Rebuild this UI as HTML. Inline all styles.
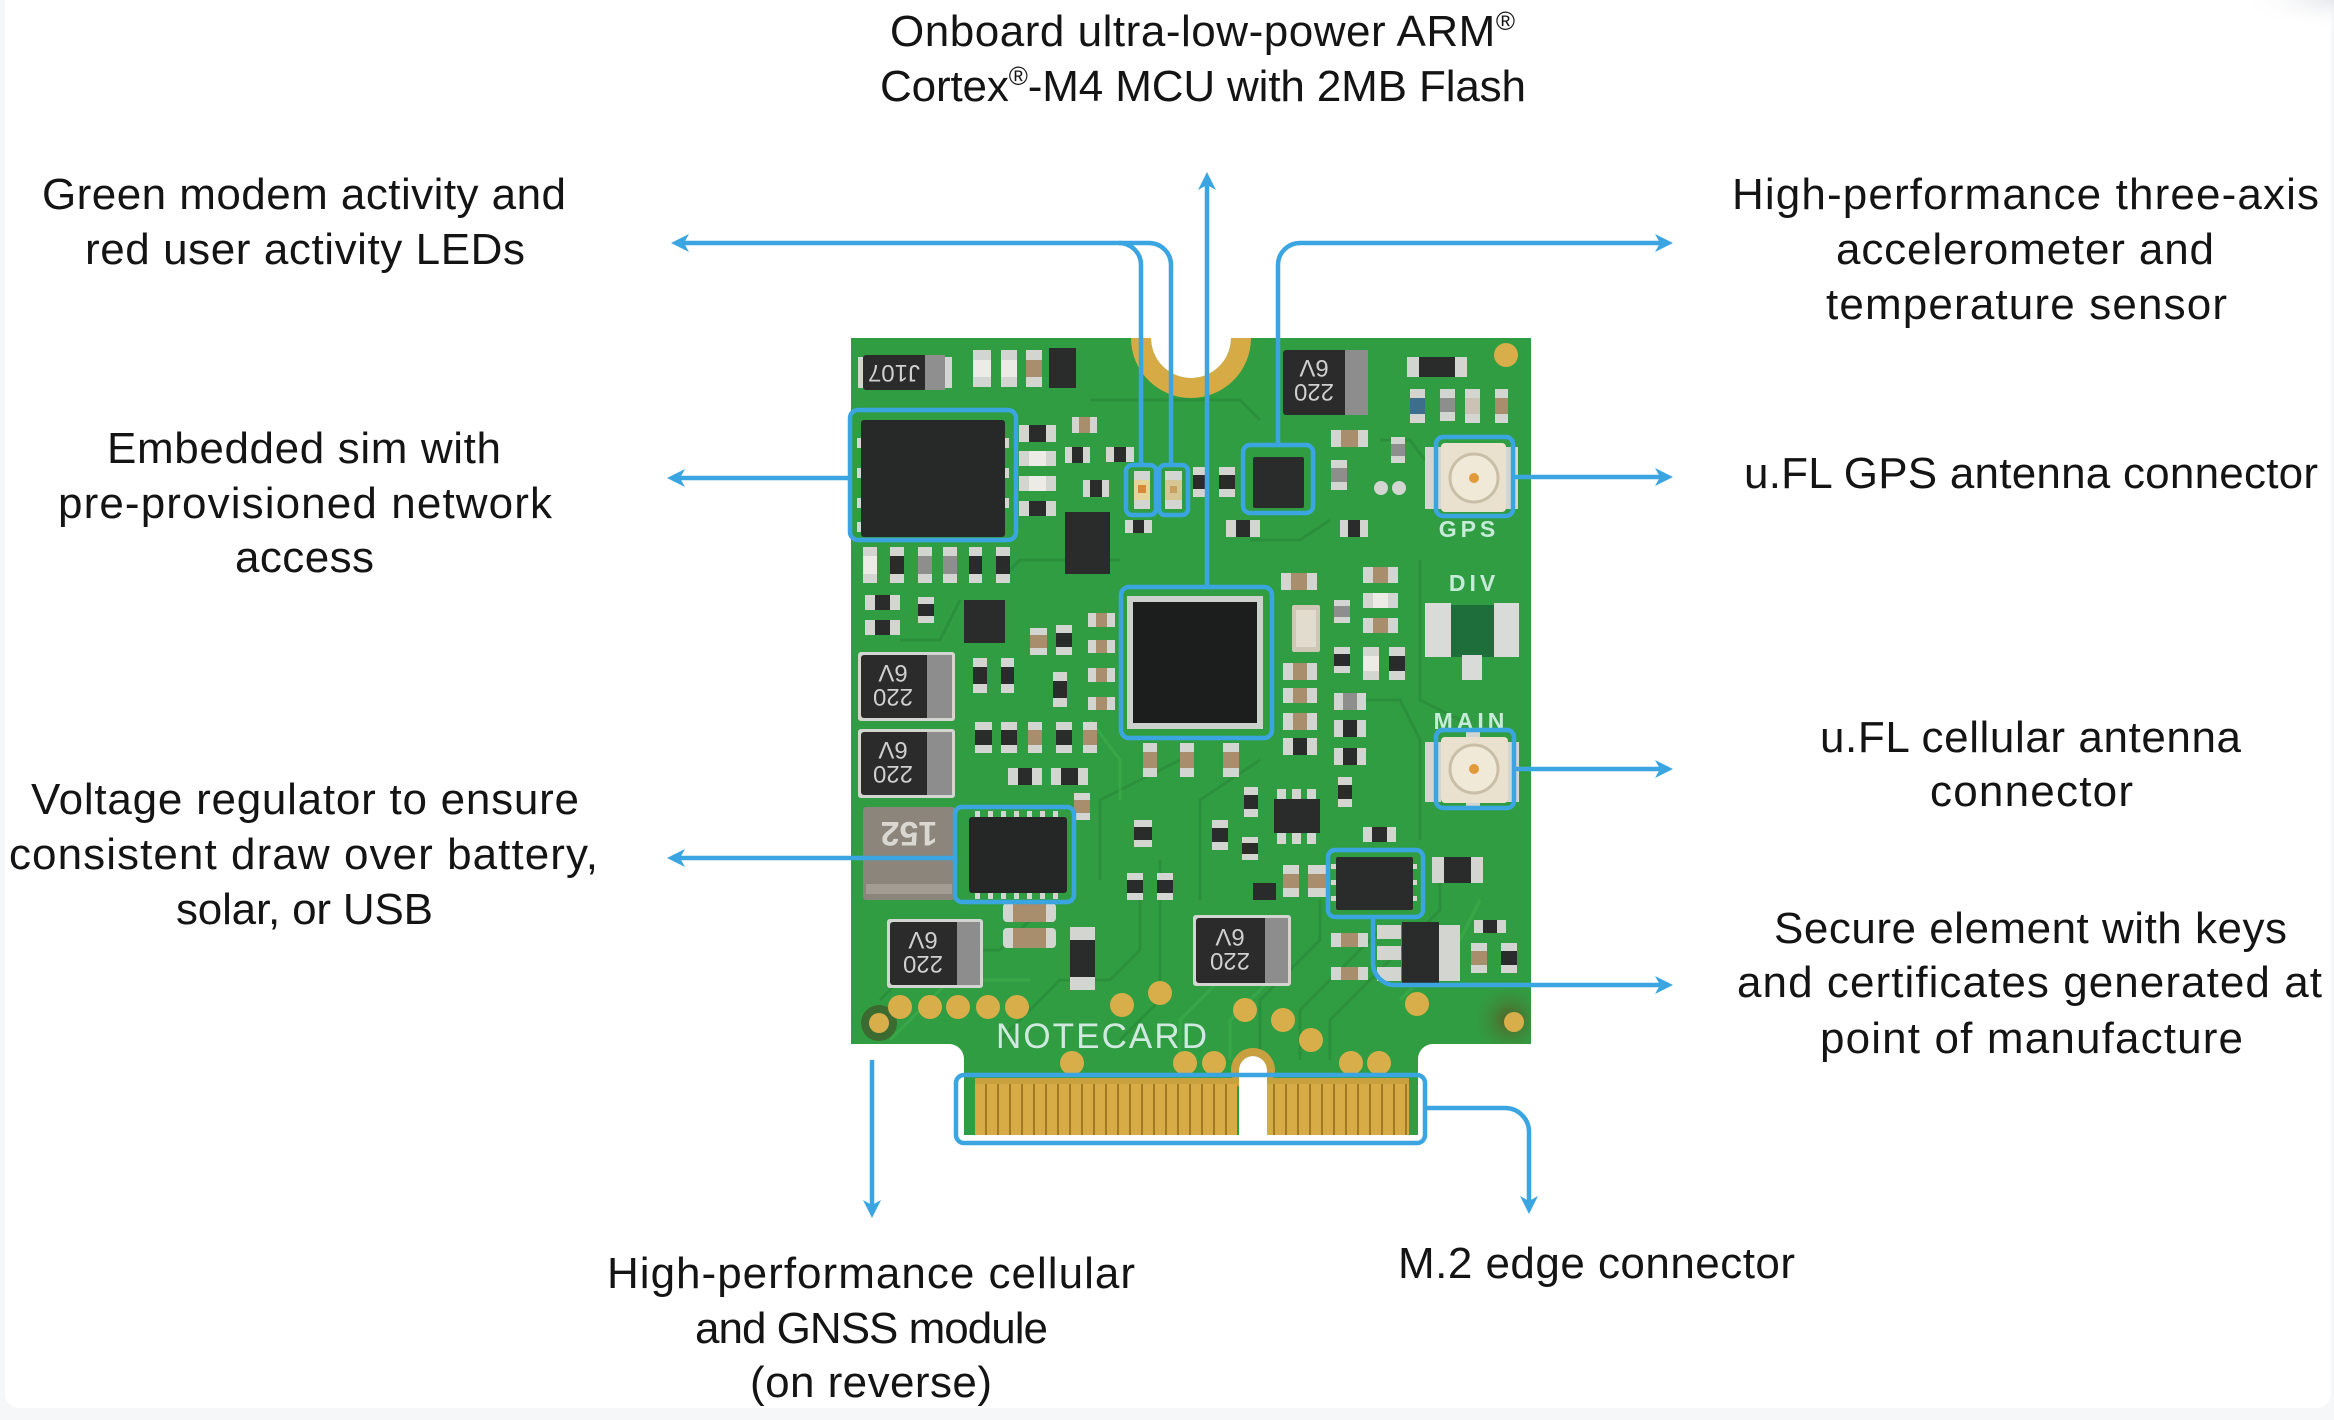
<!DOCTYPE html>
<html><head><meta charset="utf-8">
<style>
html,body{margin:0;padding:0;background:#f6f7f9;}
body{width:2334px;height:1420px;overflow:hidden;position:relative;}
svg{position:absolute;left:0;top:0;}
.t{font-family:"Liberation Sans",sans-serif;font-size:44px;fill:#141414;}
.s{fill:#d3d5d1}.k{fill:#2a2c2b}.w{fill:#ecebe6}.b{fill:#a88e6c}.g{fill:#8e8f8c}
.pl{font-family:"Liberation Sans",sans-serif;font-weight:bold;fill:#c6ebd9;}
.cl{font-family:"Liberation Sans",sans-serif;fill:#cfcfcf;font-size:24px;}
</style></head><body>
<svg width="2334" height="1420" viewBox="0 0 2334 1420">
<defs>
 <clipPath id="bc"><path d="M851,338 H1151 A40,40 0 0 0 1231,338 H1531 V1044 H1433 A15,15 0 0 0 1418,1059 V1135 H1267 V1070 A14,14 0 0 0 1239,1070 V1135 H964 V1059 A15,15 0 0 0 949,1044 H851 Z"/></clipPath>
 <pattern id="fing" x="975" y="0" width="12" height="60" patternUnits="userSpaceOnUse">
   <rect width="12" height="60" fill="#d7ac47"/>
   <rect x="10" width="2" height="60" fill="#a37a24"/>
 </pattern>
 <radialGradient id="sh" cx="1" cy="0" r="1">
   <stop offset="0" stop-color="#e6e8eb"/>
   <stop offset="1" stop-color="#ffffff" stop-opacity="0"/>
 </radialGradient>
 <radialGradient id="cornr" cx="0.5" cy="0.5" r="0.5">
   <stop offset="0" stop-color="#5a5a26"/>
   <stop offset="1" stop-color="#319d42" stop-opacity="0"/>
 </radialGradient>
</defs>

<!-- card -->
<rect x="5" y="-20" width="2326" height="1428" rx="14" fill="#ffffff"/>
<rect x="2240" y="0" width="94" height="30" fill="url(#sh)"/>

<!-- BOARD -->
<g clip-path="url(#bc)">
 <rect x="840" y="330" width="700" height="820" fill="#319d42"/>
 <!-- traces -->
 <g fill="none" stroke="#2a8d3a" stroke-width="3" opacity="0.8">
  <path d="M880,1000 L930,950 L1000,950 L1040,910"/>
  <path d="M1000,1040 L1060,980 L1110,980 L1140,950 L1140,900"/>
  <path d="M1120,1040 L1160,1000 L1160,860"/>
  <path d="M1260,1060 L1260,1000 L1320,940 L1320,900"/>
  <path d="M1300,1060 L1300,1010 L1380,930"/>
  <path d="M1330,1060 L1330,1020 L1440,910 L1440,880"/>
  <path d="M1100,880 L1100,800 L1180,760"/>
  <path d="M1200,900 L1200,800 L1260,760"/>
  <path d="M1420,560 L1420,700 L1460,720"/>
  <path d="M1250,540 L1300,540 L1330,520"/>
  <path d="M1000,580 L1020,560 L1120,560"/>
  <path d="M900,640 L940,640 L960,600"/>
  <path d="M1360,700 L1400,700 L1420,740 L1420,840"/>
  <path d="M1090,400 L1240,400 L1260,420"/>
  <path d="M1380,440 L1410,440 L1425,460"/>
 </g>
 <g fill="none" stroke="#3aab4c" stroke-width="3" opacity="0.7">
  <path d="M890,1040 L950,980 L1030,980"/>
  <path d="M1180,1060 L1180,1020 L1230,970"/>
  <path d="M1230,1060 L1230,1020 L1280,970 L1280,930"/>
  <path d="M1400,1000 L1460,940 L1480,900"/>
  <path d="M1090,720 L1120,760 L1120,800"/>
 </g>
 <!-- gold notch -->
 <circle cx="1191" cy="338" r="60" fill="#d6ab46"/>
 <!-- slot ring -->
 <circle cx="1253" cy="1070" r="22" fill="#c9a040"/>
 <!-- corner shade -->
 <rect x="1470" y="980" width="80" height="80" fill="url(#cornr)"/>
 <circle cx="879" cy="1023" r="18" fill="#3f5f2c" opacity="0.8"/>
 <!-- gold fingers -->
 <rect x="975" y="1080" width="262" height="60" fill="url(#fing)"/>
 <rect x="1267" y="1080" width="142" height="60" fill="url(#fing)"/>
 <rect x="975" y="1078" width="262" height="6" fill="#c9a03e"/>
 <rect x="1267" y="1078" width="142" height="6" fill="#c9a03e"/>
</g>

<!-- gold vias -->
<g fill="#d8ae4a">
 <circle cx="900" cy="1007" r="12"/><circle cx="930" cy="1007" r="12"/><circle cx="958" cy="1007" r="12"/>
 <circle cx="988" cy="1007" r="12"/><circle cx="1017" cy="1007" r="12"/><circle cx="1122" cy="1005" r="12"/>
 <circle cx="1160" cy="993" r="12"/><circle cx="1245" cy="1010" r="12"/><circle cx="1283" cy="1020" r="12"/>
 <circle cx="1311" cy="1040" r="12"/><circle cx="1072" cy="1063" r="12"/><circle cx="1185" cy="1063" r="12"/>
 <circle cx="1214" cy="1063" r="12"/><circle cx="1351" cy="1063" r="12"/><circle cx="1379" cy="1063" r="12"/>
 <circle cx="1417" cy="1004" r="12"/><circle cx="879" cy="1023" r="10"/><circle cx="1514" cy="1022" r="10"/>
 <circle cx="1506" cy="355" r="12"/>
</g>

<!-- NOTECARD -->
<text class="pl" x="996" y="1048" font-size="35" font-weight="normal" textLength="211" lengthAdjust="spacing" style="font-weight:normal;fill:#cfe9df">NOTECARD</text>

<!-- J107 -->
<rect x="858" y="357" width="94" height="31" class="s"/>
<rect x="863" y="355" width="64" height="35" rx="3" fill="#2b2b2b"/>
<rect x="925" y="355" width="20" height="35" fill="#8f8f8f"/>
<text class="cl" x="894" y="381" font-size="22" text-anchor="middle" transform="rotate(180 894 373)">J107</text>

<!-- top small parts -->
<rect class="s" x="973" y="350" width="18" height="37"/><rect class="w" x="973" y="360" width="18" height="17"/>
<rect class="s" x="1001" y="350" width="16" height="37"/><rect class="w" x="1001" y="360" width="16" height="17"/>
<rect class="s" x="1026" y="350" width="16" height="37"/><rect class="b" x="1026" y="360" width="16" height="17"/>
<rect class="k" x="1049" y="348" width="27" height="40"/>

<!-- 220 cap top right -->
<rect x="1283" y="350" width="85" height="65" rx="3" fill="#2b2b2b"/>
<rect x="1345" y="350" width="23" height="65" fill="#8d8d8d"/>
<text class="cl" x="1314" y="380" text-anchor="middle" transform="rotate(180 1314 382)">220</text>
<text class="cl" x="1314" y="404" text-anchor="middle" transform="rotate(180 1314 382)">6V</text>

<!-- X10 -->
<rect class="s" x="1407" y="357" width="60" height="20"/>
<rect class="k" x="1419" y="357" width="36" height="20"/>

<!-- small parts right top -->
<rect class="s" x="1410" y="389" width="15" height="34"/><rect x="1410" y="398" width="15" height="16" fill="#3d6f8c"/>
<rect class="s" x="1440" y="389" width="15" height="32"/><rect class="g" x="1440" y="398" width="15" height="14"/>
<rect class="s" x="1465" y="389" width="15" height="34"/><rect x="1465" y="398" width="15" height="16" fill="#c9c2b5"/>
<rect class="s" x="1495" y="389" width="13" height="34"/><rect class="b" x="1495" y="398" width="13" height="16"/>

<!-- SIM -->
<rect class="s" x="857" y="438" width="5" height="10"/><rect class="s" x="857" y="468" width="5" height="10"/>
<rect class="s" x="857" y="498" width="5" height="10"/><rect class="s" x="857" y="522" width="5" height="10"/>
<rect class="s" x="1004" y="438" width="5" height="10"/><rect class="s" x="1004" y="468" width="5" height="10"/>
<rect class="s" x="1004" y="498" width="5" height="10"/>
<rect x="861" y="420" width="144" height="117" rx="3" fill="#262927"/>

<!-- parts near SIM -->
<rect class="s" x="1019" y="425" width="37" height="17"/><rect class="k" x="1029" y="425" width="17" height="17"/>
<rect class="s" x="1019" y="451" width="37" height="15"/><rect class="w" x="1029" y="451" width="17" height="15"/>
<rect class="s" x="1019" y="476" width="37" height="15"/><rect class="w" x="1029" y="476" width="17" height="15"/>
<rect class="s" x="1019" y="501" width="37" height="15"/><rect class="k" x="1029" y="501" width="17" height="15"/>
<rect class="s" x="1072" y="417" width="25" height="16"/><rect class="b" x="1079" y="417" width="11" height="16"/>
<rect class="s" x="1065" y="447" width="25" height="16"/><rect class="k" x="1072" y="447" width="11" height="16"/>
<rect class="s" x="1106" y="447" width="28" height="15"/><rect class="k" x="1114" y="447" width="12" height="15"/>
<rect class="s" x="1083" y="480" width="26" height="17"/><rect class="k" x="1090" y="480" width="12" height="17"/>
<rect class="k" x="1065" y="512" width="45" height="62"/>
<rect class="s" x="1125" y="520" width="27" height="13"/><rect class="k" x="1133" y="520" width="11" height="13"/>
<rect class="s" x="1193" y="467" width="14" height="30"/><rect class="k" x="1193" y="475" width="14" height="14"/>
<rect class="s" x="1219" y="467" width="16" height="30"/><rect class="k" x="1219" y="475" width="16" height="14"/>
<rect class="s" x="1331" y="430" width="37" height="17"/><rect class="b" x="1341" y="430" width="17" height="17"/>
<rect class="s" x="1331" y="460" width="16" height="30"/><rect class="g" x="1331" y="468" width="16" height="14"/>
<rect class="s" x="1391" y="437" width="14" height="26"/><rect class="g" x="1391" y="444" width="14" height="12"/>
<circle cx="1381" cy="488" r="7" class="s"/><circle cx="1399" cy="488" r="7" class="s"/>
<rect class="s" x="1226" y="520" width="34" height="17"/><rect class="k" x="1236" y="520" width="14" height="17"/>
<rect class="s" x="1340" y="520" width="28" height="17"/><rect class="k" x="1348" y="520" width="12" height="17"/>

<!-- LEDs -->
<rect class="s" x="1134" y="471" width="16" height="38"/><rect x="1134" y="480" width="16" height="20" fill="#e6d49a"/><rect x="1138" y="485" width="8" height="8" fill="#d88a38"/>
<rect class="s" x="1165" y="471" width="17" height="38"/><rect x="1165" y="480" width="17" height="20" fill="#d7c594"/><rect x="1170" y="486" width="7" height="7" fill="#c8a060"/>

<!-- accel -->
<rect class="k" x="1253" y="457" width="51" height="51" rx="2"/>

<!-- GPS uFL -->
<rect class="s" x="1425" y="447" width="16" height="62"/><rect class="s" x="1506" y="447" width="12" height="62"/>
<rect x="1441" y="443" width="65" height="69" rx="4" fill="#e9e1cd"/>
<circle cx="1474" cy="478" r="24" fill="#f0e9d8" stroke="#c9bea8" stroke-width="3"/>
<circle cx="1474" cy="478" r="5" fill="#e09a3a"/>
<text class="pl" x="1469" y="537" font-size="23" text-anchor="middle" letter-spacing="4">GPS</text>

<!-- middle row -->
<rect class="s" x="863" y="547" width="14" height="36"/><rect class="w" x="863" y="556" width="14" height="18"/>
<rect class="s" x="890" y="547" width="14" height="36"/><rect class="k" x="890" y="556" width="14" height="18"/>
<rect class="s" x="918" y="547" width="14" height="36"/><rect class="g" x="918" y="556" width="14" height="18"/>
<rect class="s" x="943" y="547" width="14" height="36"/><rect class="g" x="943" y="556" width="14" height="18"/>
<rect class="s" x="969" y="547" width="13" height="36"/><rect class="k" x="969" y="556" width="13" height="18"/>
<rect class="s" x="996" y="547" width="14" height="36"/><rect class="k" x="996" y="556" width="14" height="18"/>
<rect class="s" x="865" y="595" width="35" height="15"/><rect class="k" x="875" y="595" width="15" height="15"/>
<rect class="s" x="865" y="620" width="35" height="15"/><rect class="k" x="875" y="620" width="15" height="15"/>
<rect class="s" x="918" y="597" width="16" height="26"/><rect class="k" x="918" y="604" width="16" height="12"/>
<rect class="k" x="964" y="600" width="41" height="43"/>
<rect class="s" x="973" y="658" width="14" height="35"/><rect class="k" x="973" y="667" width="14" height="17"/>
<rect class="s" x="1001" y="658" width="13" height="35"/><rect class="k" x="1001" y="667" width="13" height="17"/>
<rect class="s" x="1030" y="628" width="17" height="27"/><rect class="b" x="1030" y="635" width="17" height="13"/>
<rect class="s" x="1056" y="625" width="16" height="30"/><rect class="k" x="1056" y="633" width="16" height="14"/>
<rect class="s" x="1053" y="672" width="14" height="35"/><rect class="k" x="1053" y="681" width="14" height="17"/>
<rect class="s" x="1088" y="613" width="27" height="14"/><rect class="b" x="1096" y="613" width="11" height="14"/>
<rect class="s" x="1088" y="640" width="27" height="13"/><rect class="b" x="1096" y="640" width="11" height="13"/>
<rect class="s" x="1088" y="668" width="27" height="14"/><rect class="b" x="1096" y="668" width="11" height="14"/>
<rect class="s" x="1088" y="697" width="27" height="13"/><rect class="b" x="1096" y="697" width="11" height="13"/>
<rect class="s" x="975" y="722" width="17" height="31"/><rect class="k" x="975" y="730" width="17" height="15"/>
<rect class="s" x="1001" y="722" width="16" height="31"/><rect class="k" x="1001" y="730" width="16" height="15"/>
<rect class="s" x="1028" y="722" width="14" height="31"/><rect class="b" x="1028" y="730" width="14" height="15"/>
<rect class="s" x="1056" y="722" width="16" height="31"/><rect class="k" x="1056" y="730" width="16" height="15"/>
<rect class="s" x="1083" y="722" width="14" height="31"/><rect class="b" x="1083" y="730" width="14" height="15"/>

<!-- 220 caps left -->
<rect class="s" x="858" y="652" width="97" height="69" rx="3"/>
<rect x="861" y="655" width="91" height="63" rx="3" fill="#2b2b2b"/><rect x="927" y="655" width="25" height="63" fill="#8d8d8d"/>
<text class="cl" x="893" y="683" text-anchor="middle" transform="rotate(180 893 686)">220</text>
<text class="cl" x="893" y="707" text-anchor="middle" transform="rotate(180 893 686)">6V</text>
<rect class="s" x="858" y="729" width="97" height="69" rx="3"/>
<rect x="861" y="732" width="91" height="63" rx="3" fill="#2b2b2b"/><rect x="927" y="732" width="25" height="63" fill="#8d8d8d"/>
<text class="cl" x="893" y="760" text-anchor="middle" transform="rotate(180 893 763)">220</text>
<text class="cl" x="893" y="784" text-anchor="middle" transform="rotate(180 893 763)">6V</text>

<!-- MCU -->
<rect x="1127" y="596" width="136" height="133" fill="#cdd1cc"/>
<rect x="1133" y="602" width="124" height="121" fill="#1c1e1d"/>

<!-- below / right MCU -->
<rect class="s" x="1143" y="743" width="14" height="34"/><rect class="b" x="1143" y="752" width="14" height="16"/>
<rect class="s" x="1180" y="743" width="14" height="34"/><rect class="b" x="1180" y="752" width="14" height="16"/>
<rect class="s" x="1223" y="743" width="16" height="34"/><rect class="b" x="1223" y="752" width="16" height="16"/>
<rect class="s" x="1008" y="768" width="34" height="17"/><rect class="k" x="1018" y="768" width="14" height="17"/>
<rect class="s" x="1051" y="768" width="37" height="17"/><rect class="k" x="1061" y="768" width="17" height="17"/>
<rect class="s" x="1283" y="663" width="34" height="17"/><rect class="b" x="1293" y="663" width="14" height="17"/>
<rect class="s" x="1283" y="688" width="34" height="15"/><rect class="b" x="1293" y="688" width="14" height="15"/>
<rect class="s" x="1283" y="713" width="34" height="17"/><rect class="b" x="1293" y="713" width="14" height="17"/>
<rect class="s" x="1283" y="738" width="34" height="17"/><rect class="k" x="1293" y="738" width="14" height="17"/>
<rect class="s" x="1281" y="573" width="36" height="17"/><rect class="b" x="1291" y="573" width="16" height="17"/>
<rect x="1292" y="605" width="28" height="47" rx="2" fill="#cfc7b6"/><rect x="1296" y="610" width="20" height="37" fill="#e2dccf"/>
<rect class="s" x="1334" y="600" width="16" height="23"/><rect class="g" x="1334" y="606" width="16" height="11"/>
<rect class="s" x="1334" y="647" width="16" height="26"/><rect class="k" x="1334" y="654" width="16" height="12"/>
<rect class="s" x="1363" y="567" width="35" height="16"/><rect class="b" x="1373" y="567" width="15" height="16"/>
<rect class="s" x="1363" y="593" width="35" height="15"/><rect class="w" x="1373" y="593" width="15" height="15"/>
<rect class="s" x="1363" y="618" width="35" height="15"/><rect class="b" x="1373" y="618" width="15" height="15"/>
<rect class="s" x="1363" y="647" width="16" height="33"/><rect class="w" x="1363" y="656" width="16" height="15"/>
<rect class="s" x="1389" y="647" width="16" height="33"/><rect class="k" x="1389" y="656" width="16" height="15"/>
<rect class="s" x="1334" y="693" width="32" height="17"/><rect class="g" x="1343" y="693" width="14" height="17"/>
<rect class="s" x="1334" y="720" width="32" height="17"/><rect class="k" x="1343" y="720" width="14" height="17"/>
<rect class="s" x="1334" y="748" width="32" height="17"/><rect class="k" x="1343" y="748" width="14" height="17"/>

<!-- DIV -->
<text class="pl" x="1474" y="591" font-size="23" text-anchor="middle" letter-spacing="4">DIV</text>
<rect x="1446" y="605" width="50" height="52" fill="#1e6e3c"/>
<rect x="1425" y="603" width="26" height="54" fill="#d9dbd8"/>
<rect x="1494" y="603" width="25" height="54" fill="#d9dbd8"/>
<rect x="1462" y="655" width="20" height="25" fill="#d9dbd8"/>

<!-- MAIN uFL -->
<text class="pl" x="1471" y="729" font-size="23" text-anchor="middle" letter-spacing="4">MAIN</text>
<rect class="s" x="1425" y="742" width="16" height="60"/><rect class="s" x="1507" y="742" width="12" height="60"/>
<rect class="s" x="1466" y="731" width="14" height="8"/><rect class="s" x="1466" y="801" width="14" height="8"/>
<rect x="1441" y="737" width="67" height="66" rx="4" fill="#e9e1cd"/>
<circle cx="1474" cy="769" r="24" fill="#f0e9d8" stroke="#c9bea8" stroke-width="3"/>
<circle cx="1474" cy="769" r="5" fill="#e09a3a"/>

<!-- SOT and lower middle parts -->
<rect class="s" x="1277" y="789" width="9" height="12"/><rect class="s" x="1292" y="789" width="9" height="12"/><rect class="s" x="1307" y="789" width="9" height="12"/>
<rect class="s" x="1277" y="832" width="9" height="12"/><rect class="s" x="1292" y="832" width="9" height="12"/><rect class="s" x="1307" y="832" width="9" height="12"/>
<rect class="k" x="1274" y="799" width="46" height="34"/>
<rect class="s" x="1244" y="787" width="14" height="30"/><rect class="k" x="1244" y="795" width="14" height="14"/>
<rect class="s" x="1338" y="777" width="14" height="30"/><rect class="k" x="1338" y="785" width="14" height="14"/>
<rect class="s" x="1363" y="827" width="33" height="15"/><rect class="k" x="1372" y="827" width="15" height="15"/>
<rect class="s" x="1134" y="820" width="18" height="27"/><rect class="k" x="1134" y="827" width="18" height="13"/>
<rect class="s" x="1212" y="820" width="16" height="30"/><rect class="k" x="1212" y="828" width="16" height="14"/>
<rect class="s" x="1242" y="837" width="16" height="23"/><rect class="k" x="1242" y="843" width="16" height="11"/>
<rect class="s" x="1127" y="873" width="16" height="27"/><rect class="k" x="1127" y="880" width="16" height="13"/>
<rect class="s" x="1157" y="873" width="16" height="27"/><rect class="k" x="1157" y="880" width="16" height="13"/>
<rect class="s" x="1283" y="865" width="16" height="32"/><rect class="b" x="1283" y="874" width="16" height="14"/>
<rect class="s" x="1308" y="865" width="19" height="32"/><rect class="b" x="1308" y="874" width="19" height="14"/>
<rect class="s" x="1074" y="793" width="16" height="27"/><rect class="b" x="1074" y="800" width="16" height="13"/>
<rect class="k" x="1253" y="883" width="23" height="17"/>
<rect class="s" x="1432" y="857" width="51" height="26"/><rect class="k" x="1444" y="857" width="27" height="26"/>

<!-- Voltage reg + inductor -->
<rect x="863" y="807" width="92" height="93" rx="3" fill="#8b857c"/>
<rect x="866" y="884" width="86" height="10" fill="#a29c93"/>
<text x="909" y="846" font-family="Liberation Sans, sans-serif" font-weight="bold" font-size="34" fill="#dad6d0" text-anchor="middle" transform="rotate(180 909 834)">152</text>
<g class="s">
 <rect x="975" y="811" width="5" height="8"/><rect x="988" y="811" width="5" height="8"/><rect x="1001" y="811" width="5" height="8"/><rect x="1014" y="811" width="5" height="8"/><rect x="1027" y="811" width="5" height="8"/><rect x="1040" y="811" width="5" height="8"/><rect x="1053" y="811" width="5" height="8"/>
 <rect x="975" y="891" width="5" height="8"/><rect x="988" y="891" width="5" height="8"/><rect x="1001" y="891" width="5" height="8"/><rect x="1014" y="891" width="5" height="8"/><rect x="1027" y="891" width="5" height="8"/><rect x="1040" y="891" width="5" height="8"/><rect x="1053" y="891" width="5" height="8"/>
</g>
<rect x="969" y="817" width="98" height="76" rx="3" fill="#242725"/>

<!-- Secure element -->
<rect class="s" x="1331" y="864" width="6" height="5"/><rect class="s" x="1331" y="880" width="6" height="5"/><rect class="s" x="1331" y="896" width="6" height="5"/>
<rect class="s" x="1411" y="864" width="6" height="5"/><rect class="s" x="1411" y="880" width="6" height="5"/><rect class="s" x="1411" y="896" width="6" height="5"/>
<rect class="k" x="1336" y="857" width="77" height="53" rx="2"/>

<!-- bottom parts -->
<rect class="s" x="1003" y="903" width="53" height="19" rx="4"/><rect class="b" x="1013" y="903" width="33" height="19"/>
<rect class="s" x="1003" y="928" width="53" height="20" rx="4"/><rect class="b" x="1013" y="928" width="33" height="20"/>
<rect class="s" x="1070" y="927" width="25" height="63"/><rect class="k" x="1070" y="940" width="25" height="37"/>
<rect class="s" x="887" y="919" width="96" height="69" rx="3"/>
<rect x="890" y="922" width="90" height="63" rx="3" fill="#2b2b2b"/><rect x="957" y="922" width="23" height="63" fill="#8d8d8d"/>
<text class="cl" x="923" y="950" text-anchor="middle" transform="rotate(180 923 953)">220</text>
<text class="cl" x="923" y="974" text-anchor="middle" transform="rotate(180 923 953)">6V</text>
<rect class="s" x="1193" y="915" width="98" height="71" rx="3"/>
<rect x="1196" y="918" width="92" height="65" rx="3" fill="#2b2b2b"/><rect x="1265" y="918" width="23" height="65" fill="#8d8d8d"/>
<text class="cl" x="1230" y="947" text-anchor="middle" transform="rotate(180 1230 950)">220</text>
<text class="cl" x="1230" y="971" text-anchor="middle" transform="rotate(180 1230 950)">6V</text>
<rect class="s" x="1377" y="925" width="24" height="14"/><rect class="s" x="1377" y="946" width="24" height="14"/><rect class="s" x="1377" y="967" width="24" height="14"/>
<rect class="s" x="1438" y="925" width="22" height="56"/>
<rect class="k" x="1402" y="922" width="37" height="61"/>
<rect class="s" x="1331" y="933" width="37" height="14"/><rect class="b" x="1341" y="933" width="17" height="14"/>
<rect class="s" x="1331" y="967" width="37" height="13"/><rect class="b" x="1341" y="967" width="17" height="13"/>
<rect class="s" x="1471" y="943" width="16" height="30"/><rect class="b" x="1471" y="951" width="16" height="14"/>
<rect class="s" x="1501" y="943" width="16" height="30"/><rect class="k" x="1501" y="951" width="16" height="14"/>
<rect class="s" x="1474" y="920" width="32" height="13"/><rect class="k" x="1483" y="920" width="14" height="13"/>

<!-- BLUE ANNOTATIONS -->
<g fill="none" stroke="#3aa5e0" stroke-width="4.5" stroke-linejoin="round">
 <rect x="850" y="410" width="166" height="130" rx="8"/>
 <rect x="1126" y="465" width="30" height="50" rx="6"/>
 <rect x="1159" y="465" width="29" height="50" rx="6"/>
 <rect x="1243" y="445" width="70" height="68" rx="7"/>
 <rect x="1436" y="437" width="77" height="79" rx="7"/>
 <rect x="1121" y="587" width="151" height="151" rx="8"/>
 <rect x="1436" y="730" width="78" height="78" rx="7"/>
 <rect x="955" y="807" width="119" height="95" rx="7"/>
 <rect x="1328" y="850" width="95" height="67" rx="7"/>
 <rect x="956" y="1075" width="469" height="68" rx="8"/>
 <path d="M683,243 H1149 A22,22 0 0 1 1171,265 V465"/>
 <path d="M1119,243 A22,22 0 0 1 1141,265 V465"/>
 <path d="M850,478 H679"/>
 <path d="M955,858 H679"/>
 <path d="M1278,445 V265 A22,22 0 0 1 1300,243 H1661"/>
 <path d="M1513,477 H1661"/>
 <path d="M1514,769 H1661"/>
 <path d="M1373,917 V963 A22,22 0 0 0 1395,985 H1661"/>
 <path d="M1207,587 V184"/>
 <path d="M872,1060 V1206"/>
 <path d="M1425,1108 H1505 A24,24 0 0 1 1529,1132 V1202"/>
</g>
<g fill="#3aa5e0">
 <polygon points="671,243 689,234 684,243 689,252"/>
 <polygon points="667,478 685,469 680,478 685,487"/>
 <polygon points="667,858 685,849 680,858 685,867"/>
 <polygon points="1673,243 1655,234 1660,243 1655,252"/>
 <polygon points="1673,477 1655,468 1660,477 1655,486"/>
 <polygon points="1673,769 1655,760 1660,769 1655,778"/>
 <polygon points="1673,985 1655,976 1660,985 1655,994"/>
 <polygon points="1207,172 1198,190 1207,185 1216,190"/>
 <polygon points="872,1218 863,1200 872,1205 881,1200"/>
 <polygon points="1529,1214 1520,1196 1529,1201 1538,1196"/>
</g>

<!-- LABELS -->
<text class="t" x="890" y="46" textLength="625" lengthAdjust="spacing">Onboard ultra-low-power ARM<tspan font-size="26" dy="-16">®</tspan></text>
<text class="t" x="880" y="101" textLength="646" lengthAdjust="spacing">Cortex<tspan font-size="26" dy="-16">®</tspan><tspan dy="16">-M4 MCU with 2MB Flash</tspan></text>

<text class="t" x="42" y="209" textLength="524" lengthAdjust="spacing">Green modem activity and</text>
<text class="t" x="85" y="264" textLength="440" lengthAdjust="spacing">red user activity LEDs</text>

<text class="t" x="107" y="463" textLength="394" lengthAdjust="spacing">Embedded sim with</text>
<text class="t" x="58" y="518" textLength="494" lengthAdjust="spacing">pre-provisioned network</text>
<text class="t" x="235" y="572" textLength="139" lengthAdjust="spacing">access</text>

<text class="t" x="31" y="814" textLength="548" lengthAdjust="spacing">Voltage regulator to ensure</text>
<text class="t" x="9" y="869" textLength="589" lengthAdjust="spacing">consistent draw over battery,</text>
<text class="t" x="176" y="924" textLength="257" lengthAdjust="spacing">solar, or USB</text>

<text class="t" x="1732" y="209" textLength="587" lengthAdjust="spacing">High-performance three-axis</text>
<text class="t" x="1836" y="264" textLength="378" lengthAdjust="spacing">accelerometer and</text>
<text class="t" x="1826" y="319" textLength="401" lengthAdjust="spacing">temperature sensor</text>

<text class="t" x="1744" y="488" textLength="574" lengthAdjust="spacing">u.FL GPS antenna connector</text>

<text class="t" x="1820" y="752" textLength="421" lengthAdjust="spacing">u.FL cellular antenna</text>
<text class="t" x="1930" y="806" textLength="203" lengthAdjust="spacing">connector</text>

<text class="t" x="1774" y="943" textLength="513" lengthAdjust="spacing">Secure element with keys</text>
<text class="t" x="1737" y="997" textLength="585" lengthAdjust="spacing">and certificates generated at</text>
<text class="t" x="1820" y="1053" textLength="423" lengthAdjust="spacing">point of manufacture</text>

<text class="t" x="607" y="1288" textLength="528" lengthAdjust="spacing">High-performance cellular</text>
<text class="t" x="695" y="1343" textLength="353" lengthAdjust="spacing">and GNSS module</text>
<text class="t" x="750" y="1397" textLength="242" lengthAdjust="spacing">(on reverse)</text>

<text class="t" x="1398" y="1278" textLength="397" lengthAdjust="spacing">M.2 edge connector</text>
</svg>
</body></html>
